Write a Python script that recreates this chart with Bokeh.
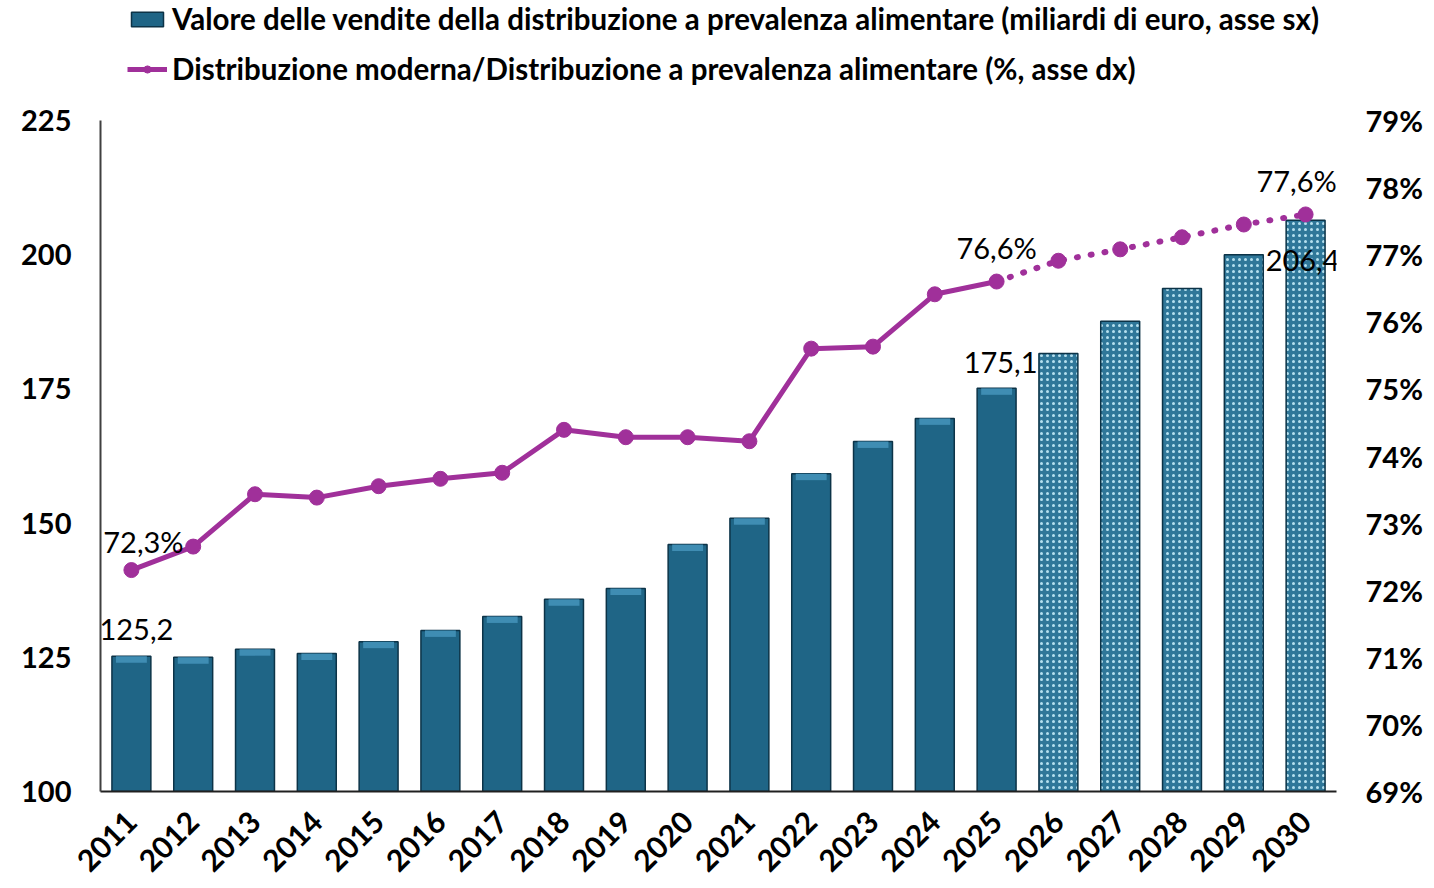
import math
from bokeh.plotting import figure
from bokeh.layouts import column
from bokeh.models import (Range1d, FactorRange, LinearAxis, FixedTicker, PrintfTickFormatter,
                          Legend, LegendItem, ColumnDataSource, LabelSet)
from bokeh.core.properties import value
from bokeh.embed import file_html
from bokeh.resources import INLINE

# ---------------- data ----------------
years = ["2011", "2012", "2013", "2014", "2015", "2016", "2017", "2018", "2019", "2020",
         "2021", "2022", "2023", "2024", "2025", "2026", "2027", "2028", "2029", "2030"]
sales = [125.2, 125.0, 126.5, 125.7, 127.9, 130.0, 132.6, 135.8, 137.8, 146.0,
         150.9, 159.2, 165.2, 169.5, 175.1, 181.6, 187.6, 193.7, 200.0, 206.4]
share = [72.3, 72.65, 73.43, 73.38, 73.55, 73.66, 73.75, 74.39, 74.28, 74.28,
         74.22, 75.60, 75.63, 76.41, 76.6, 76.91, 77.08, 77.26, 77.45, 77.6]
n_actual = 15  # 2011-2025 actual, 2026-2030 forecast
left_ticks = [100, 125, 150, 175, 200, 225]
right_ticks = [69, 70, 71, 72, 73, 74, 75, 76, 77, 78, 79]
legend_bar = "Valore delle vendite della distribuzione a prevalenza alimentare (miliardi di euro, asse sx)"
legend_line = "Distribuzione moderna/Distribuzione a prevalenza alimentare (%, asse dx)"

FONT = "Lato"
BAR = "#1f6586"
BAR_TOP = "#3f8db3"
BAR_EDGE = "#0c3347"
MAG = "#a0309a"
W = 1426

# ---------------- main chart ----------------
p = figure(x_range=years, y_range=Range1d(left_ticks[0], left_ticks[-1]),
           width=W, height=784, output_backend="svg", toolbar_location=None,
           min_border_left=100, min_border_right=90, min_border_top=20, min_border_bottom=93)
p.extra_y_ranges = {"pct": Range1d(right_ticks[0], right_ticks[-1])}
p.outline_line_color = None
p.xgrid.visible = False
p.ygrid.visible = False

ya = p.yaxis[0]
ya.ticker = FixedTicker(ticks=left_ticks)
ya.major_tick_out = 0
ya.major_tick_in = 0
ya.minor_tick_out = 0
ya.minor_tick_in = 0
ya.axis_line_color = "#404040"
ya.axis_line_width = 2
ya.major_label_standoff = 29
ya.major_label_text_font = FONT
ya.major_label_text_font_size = "29px"
ya.major_label_text_font_style = "bold"
ya.major_label_text_color = "black"

xa = p.xaxis[0]
xa.major_tick_out = 0
xa.major_tick_in = 0
xa.axis_line_color = "#202020"
xa.axis_line_width = 2
xa.major_label_orientation = math.pi / 4
xa.major_label_standoff = 25
xa.major_label_text_font = FONT
xa.major_label_text_font_size = "30px"
xa.major_label_text_font_style = "bold"
xa.major_label_text_color = "black"

ra = LinearAxis(y_range_name="pct", ticker=FixedTicker(ticks=right_ticks),
                formatter=PrintfTickFormatter(format="%d%%"))
ra.axis_line_color = None
ra.major_tick_out = 0
ra.major_tick_in = 0
ra.minor_tick_out = 0
ra.minor_tick_in = 0
ra.major_label_standoff = 29
ra.major_label_text_font = FONT
ra.major_label_text_font_size = "29px"
ra.major_label_text_font_style = "bold"
ra.major_label_text_color = "black"
p.add_layout(ra, "right")

base = left_ticks[0]
bar_style = dict(fill_color=BAR, line_color=BAR_EDGE, line_width=1.5)
fc_style = dict(fill_color="#2f7799", hatch_pattern="dot", hatch_color="#b5e0ef",
                hatch_scale=6, hatch_weight=2.6, line_color=BAR_EDGE, line_width=1.5)
src_act = ColumnDataSource(dict(x=years[:n_actual], top=sales[:n_actual],
                                bevel=[v - 1.2 for v in sales[:n_actual]]))
src_fc = ColumnDataSource(dict(x=years[n_actual:], top=sales[n_actual:]))
p.vbar(x="x", top="top", bottom=base, width=0.63, source=src_act, **bar_style)
# lighter bevel strip on the top of the actual bars
p.vbar(x="x", top="top", bottom="bevel", width=0.5, source=src_act,
       fill_color=BAR_TOP, line_color=None)
p.vbar(x="x", top="top", bottom=base, width=0.63, source=src_fc, **fc_style)

line_style = dict(line_color=MAG, line_width=5, line_join="round")
pt_style = dict(size=15, fill_color=MAG, line_color=MAG)
p.line(years[:n_actual], share[:n_actual], y_range_name="pct", **line_style)
p.line(years[n_actual - 1:], share[n_actual - 1:], y_range_name="pct",
       line_color=MAG, line_width=6, line_dash="1 13", line_cap="round")
p.scatter(years, share, y_range_name="pct", **pt_style)

def fmt(v, suffix=""):
    return f"{v:.1f}".replace(".", ",") + suffix

def labels(x, y, txt, dx, dy, rng="default"):
    src = ColumnDataSource(dict(x=[x], y=[y], t=[txt]))
    p.add_layout(LabelSet(x="x", y="y", text="t", source=src, y_range_name=rng,
                          x_offset=dx, y_offset=dy, text_align="center",
                          text_baseline="middle", text_font=value(FONT),
                          text_font_size="29px", text_color="black"))

labels(years[0], sales[0], fmt(sales[0]), 5, 27)
labels(years[n_actual - 1], sales[n_actual - 1], fmt(sales[n_actual - 1]), 4, 26)
labels(years[-1], sales[-1], fmt(sales[-1]), -3, -40)
labels(years[0], share[0], fmt(share[0], "%"), 12, 29, "pct")
labels(years[n_actual - 1], share[n_actual - 1], fmt(share[n_actual - 1], "%"), 0, 34, "pct")
labels(years[-1], share[-1], fmt(share[-1], "%"), -9, 34, "pct")

# ---------------- legend strip on top ----------------
# legend proxies use the first data points; their years are not factors of this
# strip's x range, so they are not drawn here (only their legend glyphs are)
lg = figure(width=W, height=100, x_range=FactorRange(*years[n_actual:]),
            y_range=Range1d(1000, 1001),
            output_backend="svg", toolbar_location=None,
            x_axis_location=None, y_axis_location=None, min_border=0)
lg.outline_line_color = None
lg.xgrid.visible = False
lg.ygrid.visible = False
k_bar = lg.vbar(x=years[:1], top=sales[:1], bottom=base, width=0.5, **bar_style)
k_line = lg.line(years[:2], share[:2], **line_style)
k_pt = lg.scatter(years[:2], share[:2], **pt_style)
legend = Legend(items=[LegendItem(label=legend_bar, renderers=[k_bar]),
                       LegendItem(label=legend_line, renderers=[k_line, k_pt])],
                location=(27, 14), orientation="vertical",
                label_text_font=FONT, label_text_font_size="29.5px",
                label_text_font_style="bold", label_text_color="black",
                glyph_width=40, glyph_height=18, label_height=30,
                spacing=15, padding=0, margin=0, label_standoff=5,
                border_line_color=None, background_fill_alpha=0)
lg.add_layout(legend)

layout = column(lg, p, spacing=0)
open("out.html", "w").write(file_html(layout, INLINE))
